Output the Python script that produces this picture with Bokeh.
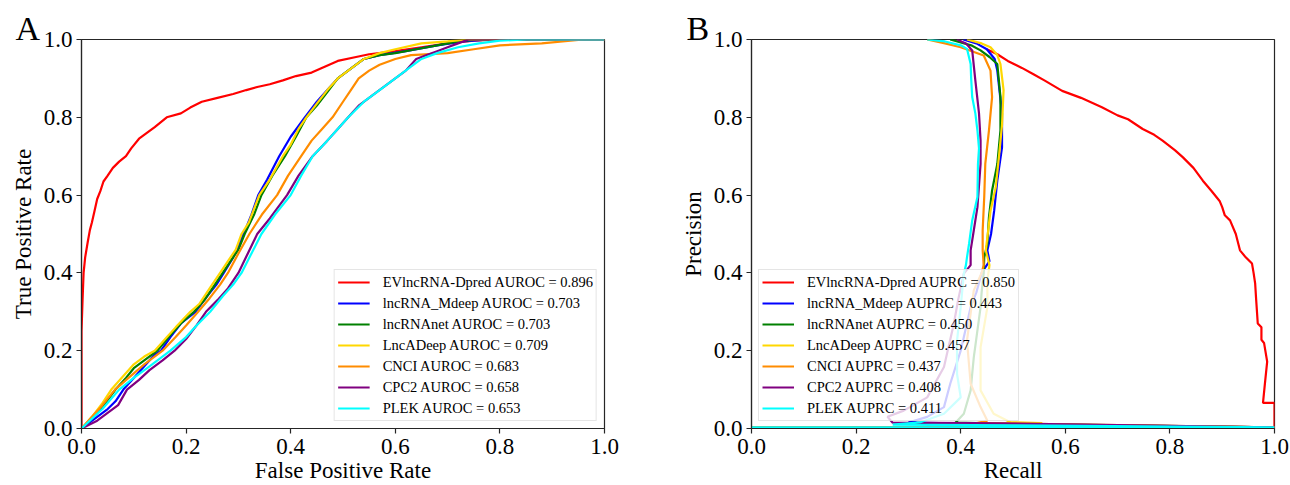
from bokeh.plotting import figure
from bokeh.models import Range1d, FixedTicker, PrintfTickFormatter, Legend, LegendItem
from bokeh.layouts import row
from bokeh.embed import file_html
from bokeh.resources import INLINE

# ---------------- data ----------------
model_names = ["EVlncRNA-Dpred", "lncRNA_Mdeep", "lncRNAnet", "LncADeep", "CNCI", "CPC2", "PLEK"]
model_colors = ["#ff0000", "#0000ff", "#008000", "#ffd700", "#ff8c00", "#800080", "#00ffff"]
auroc_values = ["0.896", "0.703", "0.703", "0.709", "0.683", "0.658", "0.653"]
auprc_values = ["0.850", "0.443", "0.450", "0.457", "0.437", "0.408", "0.411"]
tick_values = [0.0, 0.2, 0.4, 0.6, 0.8, 1.0]

# ROC curves: (false positive rate, true positive rate)
roc_evlncrna = [(0, 0), (0, 0.25), (0.002, 0.33), (0.004, 0.4), (0.007, 0.44), (0.012, 0.48), (0.016, 0.51),
                (0.02, 0.53), (0.025, 0.56), (0.03, 0.59), (0.036, 0.61), (0.042, 0.635), (0.05, 0.65),
                (0.06, 0.67), (0.072, 0.686), (0.085, 0.7), (0.095, 0.72), (0.11, 0.745), (0.125, 0.76),
                (0.14, 0.775), (0.163, 0.8), (0.19, 0.81), (0.208, 0.825), (0.23, 0.84), (0.26, 0.85),
                (0.29, 0.86), (0.315, 0.87), (0.336, 0.878), (0.36, 0.885), (0.385, 0.895), (0.41, 0.906),
                (0.44, 0.915), (0.465, 0.93), (0.49, 0.945), (0.525, 0.955), (0.55, 0.962), (0.6, 0.97),
                (0.65, 0.98), (0.7, 0.99), (0.75, 0.997), (0.8, 1.0), (1.0, 1.0)]
roc_mdeep = [(0, 0), (0.03, 0.03), (0.05, 0.05), (0.065, 0.07), (0.08, 0.1), (0.1, 0.13), (0.12, 0.16),
             (0.14, 0.19), (0.152, 0.2), (0.17, 0.235), (0.19, 0.27), (0.218, 0.3), (0.24, 0.34),
             (0.258, 0.37), (0.272, 0.4), (0.29, 0.44), (0.31, 0.5), (0.325, 0.55), (0.338, 0.6),
             (0.355, 0.64), (0.378, 0.7), (0.4, 0.75), (0.427, 0.8), (0.45, 0.84), (0.47, 0.87),
             (0.49, 0.9), (0.515, 0.925), (0.54, 0.95), (0.57, 0.96), (0.62, 0.97), (0.68, 0.985),
             (0.73, 0.995), (0.78, 1.0), (1.0, 1.0)]
roc_lncrnanet = [(0, 0), (0.02, 0.025), (0.04, 0.055), (0.065, 0.1), (0.085, 0.13), (0.1, 0.155),
                 (0.12, 0.175), (0.145, 0.2), (0.17, 0.24), (0.19, 0.27), (0.215, 0.3), (0.235, 0.33),
                 (0.255, 0.37), (0.27, 0.4), (0.285, 0.43), (0.3, 0.46), (0.312, 0.5), (0.33, 0.55),
                 (0.344, 0.6), (0.365, 0.65), (0.389, 0.7), (0.41, 0.75), (0.43, 0.8), (0.45, 0.83),
                 (0.47, 0.865), (0.49, 0.9), (0.52, 0.93), (0.54, 0.95), (0.57, 0.96), (0.6, 0.965),
                 (0.64, 0.975), (0.68, 0.985), (0.72, 0.995), (0.76, 1.0), (1.0, 1.0)]
roc_lncadeep = [(0, 0), (0.02, 0.03), (0.04, 0.065), (0.057, 0.1), (0.08, 0.135), (0.1, 0.165),
                (0.12, 0.185), (0.14, 0.2), (0.16, 0.23), (0.18, 0.26), (0.208, 0.3), (0.225, 0.32),
                (0.245, 0.36), (0.265, 0.4), (0.28, 0.43), (0.295, 0.46), (0.306, 0.5), (0.32, 0.53),
                (0.34, 0.6), (0.36, 0.64), (0.385, 0.7), (0.4, 0.73), (0.415, 0.77), (0.43, 0.8),
                (0.45, 0.835), (0.47, 0.87), (0.49, 0.9), (0.51, 0.92), (0.54, 0.95), (0.57, 0.965),
                (0.6, 0.975), (0.65, 0.99), (0.7, 0.995), (0.74, 1.0), (1.0, 1.0)]
roc_cnci = [(0, 0), (0.02, 0.03), (0.04, 0.06), (0.064, 0.1), (0.09, 0.13), (0.12, 0.165), (0.155, 0.2),
            (0.18, 0.235), (0.2, 0.265), (0.223, 0.3), (0.245, 0.335), (0.265, 0.37), (0.28, 0.4),
            (0.3, 0.45), (0.321, 0.5), (0.345, 0.55), (0.374, 0.6), (0.395, 0.65), (0.42, 0.7),
            (0.44, 0.74), (0.46, 0.77), (0.48, 0.8), (0.5, 0.84), (0.515, 0.87), (0.53, 0.9),
            (0.55, 0.92), (0.57, 0.935), (0.6, 0.95), (0.63, 0.96), (0.7, 0.965), (0.75, 0.975),
            (0.8, 0.985), (0.88, 0.99), (0.96, 1.0), (1.0, 1.0)]
roc_cpc2 = [(0, 0), (0.03, 0.02), (0.05, 0.04), (0.07, 0.06), (0.087, 0.1), (0.11, 0.125), (0.13, 0.15),
            (0.155, 0.175), (0.178, 0.2), (0.2, 0.23), (0.22, 0.265), (0.238, 0.3), (0.26, 0.33),
            (0.28, 0.36), (0.3, 0.4), (0.318, 0.45), (0.336, 0.5), (0.36, 0.54), (0.393, 0.6),
            (0.415, 0.65), (0.442, 0.7), (0.47, 0.74), (0.49, 0.77), (0.51, 0.8), (0.53, 0.83),
            (0.56, 0.86), (0.6, 0.9), (0.62, 0.92), (0.64, 0.95), (0.66, 0.96), (0.68, 0.97),
            (0.7, 0.98), (0.72, 0.99), (0.74, 1.0), (1.0, 1.0)]
roc_plek = [(0, 0), (0.02, 0.025), (0.04, 0.05), (0.072, 0.1), (0.1, 0.13), (0.13, 0.16), (0.17, 0.2),
            (0.2, 0.235), (0.22, 0.265), (0.246, 0.3), (0.27, 0.34), (0.29, 0.37), (0.306, 0.4),
            (0.325, 0.45), (0.344, 0.5), (0.37, 0.55), (0.4, 0.6), (0.42, 0.65), (0.442, 0.7),
            (0.47, 0.74), (0.49, 0.77), (0.51, 0.8), (0.54, 0.84), (0.57, 0.87), (0.6, 0.9),
            (0.63, 0.93), (0.65, 0.95), (0.68, 0.965), (0.72, 0.98), (0.76, 0.99), (0.8, 0.997),
            (0.85, 1.0), (1.0, 1.0)]

# PR curves: (recall, precision)
pr_evlncrna = [(0.45, 0.975), (0.47, 0.962), (0.49, 0.945), (0.517, 0.927), (0.54, 0.91), (0.56, 0.895),
               (0.594, 0.868), (0.63, 0.85), (0.67, 0.826), (0.7, 0.805), (0.72, 0.795), (0.748, 0.77),
               (0.77, 0.755), (0.786, 0.74), (0.81, 0.715), (0.825, 0.697), (0.845, 0.67), (0.863, 0.637),
               (0.88, 0.61), (0.895, 0.585), (0.9, 0.569), (0.905, 0.548), (0.915, 0.535), (0.926, 0.5),
               (0.934, 0.458), (0.945, 0.44), (0.957, 0.424), (0.96, 0.4), (0.963, 0.373), (0.965, 0.33),
               (0.968, 0.27), (0.975, 0.26), (0.975, 0.228), (0.98, 0.22), (0.986, 0.172), (0.982, 0.12),
               (0.978, 0.066), (1.0, 0.066), (1.0, 0.0)]
pr_mdeep = [(0.405, 1.0), (0.43, 0.99), (0.45, 0.975), (0.465, 0.95), (0.47, 0.92), (0.479, 0.81),
            (0.479, 0.723), (0.47, 0.638), (0.464, 0.56), (0.458, 0.5), (0.451, 0.458), (0.455, 0.43),
            (0.44, 0.4), (0.43, 0.35), (0.419, 0.312), (0.4, 0.2), (0.38, 0.115), (0.368, 0.055),
            (0.336, 0.03), (0.3, 0.015), (0.45, 0.012), (1.0, 0.003)]
pr_lncrnanet = [(0.38, 1.0), (0.42, 0.985), (0.438, 0.972), (0.455, 0.955), (0.47, 0.937), (0.476, 0.852),
                (0.476, 0.766), (0.47, 0.68), (0.46, 0.612), (0.454, 0.543), (0.451, 0.475), (0.445, 0.44),
                (0.444, 0.4), (0.44, 0.35), (0.438, 0.312), (0.425, 0.183), (0.419, 0.098), (0.406, 0.038),
                (0.39, 0.015), (0.5, 0.012), (1.0, 0.003), (0.0, 0.002)]
pr_lncadeep = [(0.412, 1.0), (0.44, 0.99), (0.457, 0.98), (0.47, 0.96), (0.476, 0.937), (0.482, 0.87),
               (0.479, 0.78), (0.473, 0.697), (0.467, 0.62), (0.457, 0.56), (0.451, 0.492), (0.448, 0.458),
               (0.455, 0.42), (0.451, 0.38), (0.451, 0.312), (0.438, 0.209), (0.438, 0.098), (0.463, 0.038),
               (0.495, 0.016), (0.555, 0.014), (0.555, 0.01), (1.0, 0.003)]
pr_cnci = [(0.336, 1.0), (0.37, 0.99), (0.4, 0.98), (0.444, 0.959), (0.457, 0.92), (0.46, 0.852),
           (0.454, 0.766), (0.447, 0.68), (0.445, 0.595), (0.442, 0.509), (0.442, 0.458), (0.444, 0.42),
           (0.44, 0.4), (0.425, 0.355), (0.412, 0.226), (0.419, 0.115), (0.438, 0.055), (0.451, 0.02),
           (0.43, 0.014), (1.0, 0.003)]
pr_cpc2 = [(0.393, 1.0), (0.41, 0.99), (0.422, 0.972), (0.428, 0.895), (0.435, 0.81), (0.438, 0.74),
           (0.438, 0.68), (0.432, 0.569), (0.425, 0.509), (0.419, 0.458), (0.419, 0.42), (0.406, 0.398),
           (0.395, 0.33), (0.387, 0.27), (0.368, 0.158), (0.336, 0.08), (0.291, 0.046), (0.26, 0.03),
           (0.27, 0.015), (0.42, 0.014), (1.0, 0.003)]
pr_plek = [(0.336, 1.0), (0.37, 0.995), (0.4, 0.985), (0.412, 0.976), (0.419, 0.937), (0.42, 0.9),
           (0.422, 0.852), (0.428, 0.81), (0.432, 0.766), (0.435, 0.72), (0.433, 0.68), (0.432, 0.595),
           (0.422, 0.535), (0.416, 0.475), (0.412, 0.44), (0.41, 0.42), (0.406, 0.398), (0.4, 0.312),
           (0.393, 0.226), (0.393, 0.14), (0.4, 0.08), (0.368, 0.038), (0.323, 0.016), (0.27, 0.01),
           (0.5, 0.008), (1.0, 0.003), (0.0, 0.002)]

roc_curves = [roc_evlncrna, roc_mdeep, roc_lncrnanet, roc_lncadeep, roc_cnci, roc_cpc2, roc_plek]
pr_curves = [pr_evlncrna, pr_mdeep, pr_lncrnanet, pr_lncadeep, pr_cnci, pr_cpc2, pr_plek]

FONT = "Liberation Serif"
AX = "#262626"


def make_panel(width, left, right, letter, letter_offset, xlabel, ylabel, curves, metric, values, legend_loc):
    p = figure(width=width, height=485, output_backend="svg", toolbar_location=None,
               x_range=Range1d(0, 1), y_range=Range1d(0, 1),
               min_border_left=left, min_border_right=right, min_border_top=39, min_border_bottom=56,
               background_fill_color="white", border_fill_color="white")
    p.xgrid.visible = False
    p.ygrid.visible = False
    p.outline_line_color = AX
    p.outline_line_width = 1.2
    p.outline_line_alpha = 1.0
    for ax in (p.xaxis[0], p.yaxis[0]):
        ax.ticker = FixedTicker(ticks=tick_values)
        ax.formatter = PrintfTickFormatter(format="%.1f")
        ax.axis_line_color = AX
        ax.axis_line_width = 1.2
        ax.major_tick_line_color = AX
        ax.major_tick_line_width = 1.2
        ax.major_tick_out = 5
        ax.major_tick_in = 0
        ax.minor_tick_out = 0
        ax.minor_tick_in = 0
        ax.major_label_text_font = FONT
        ax.major_label_text_font_size = "23px"
        ax.major_label_text_color = "black"
        ax.major_label_standoff = 4
        ax.axis_label_text_font = FONT
        ax.axis_label_text_font_size = "23px"
        ax.axis_label_text_font_style = "normal"
        ax.axis_label_text_color = "black"
        ax.axis_label_standoff = 5
    p.xaxis[0].major_label_standoff = 5
    p.xaxis[0].axis_label_standoff = 1
    p.xaxis[0].axis_label = xlabel
    p.yaxis[0].axis_label = ylabel

    items = []
    for name, color, val, pts in zip(model_names, model_colors, values, curves):
        xs = [a for a, b in pts]
        ys = [b for a, b in pts]
        r = p.line(xs, ys, line_color=color, line_width=2.2)
        items.append(LegendItem(label=f"{name} {metric} = {val}", renderers=[r]))

    legend = Legend(items=items, location=legend_loc, margin=7, padding=3, spacing=3,
                    glyph_width=32, glyph_height=18, label_height=18, label_standoff=13,
                    label_text_font=FONT, label_text_font_size="14.5px", label_text_color="black",
                    border_line_color="#cccccc", border_line_width=1,
                    background_fill_color="white", background_fill_alpha=0.8)
    p.add_layout(legend)

    p.title.text = letter
    p.title.align = "left"
    p.title.offset = letter_offset
    p.title.standoff = -14
    p.title.text_font = FONT
    p.title.text_font_size = "34px"
    p.title.text_font_style = "normal"
    p.title.text_color = "black"
    p.title.vertical_align = "bottom"
    return p


pA = make_panel(660, 81, 56, "A", -66, "False Positive Rate", "True Positive Rate",
                roc_curves, "AUROC", auroc_values, "bottom_right")
pB = make_panel(630, 91, 16, "B", -65, "Recall", "Precision",
                pr_curves, "AUPRC", auprc_values, "bottom_left")

layout = row(pA, pB)
open("out.html", "w").write(file_html(layout, INLINE))
